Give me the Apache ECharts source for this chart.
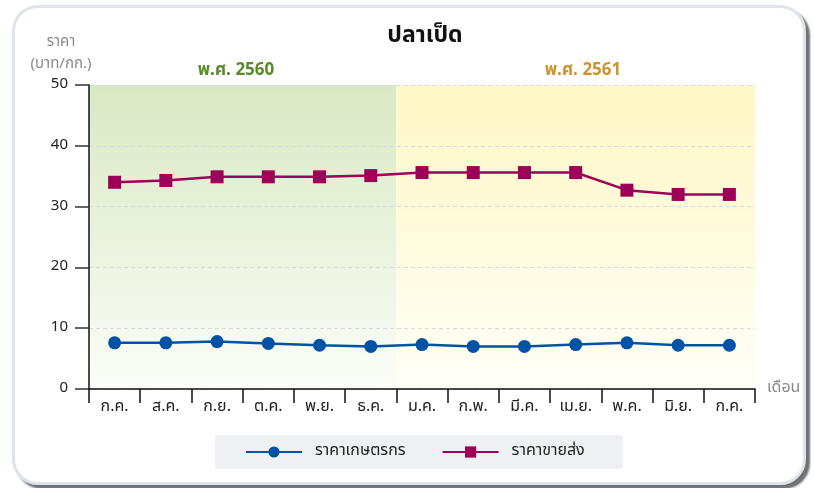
<!DOCTYPE html>
<html>
<head>
<meta charset="utf-8">
<script src="https://cdn.jsdelivr.net/npm/echarts@6/dist/echarts.min.js"></script>
<style>
  html, body { margin: 0; padding: 0; background: #fff; }
  #card {
    position: absolute; left: 12px; top: 5px; width: 788px; height: 474px;
    border: 3px solid #dde4eb; border-radius: 26px;
    box-shadow: 4px 4px 2px #6f7275;
    background: #fff;
  }
  #chart { position: absolute; left: 0; top: 0; width: 814px; height: 488px; }
</style>
</head>
<body>
<div id="card"></div>
<div id="chart"></div>
<script>
  // months: ก.ค. 2560 .. ก.ค. 2561
  const months = ['ก.ค.', 'ส.ค.', 'ก.ย.', 'ต.ค.', 'พ.ย.', 'ธ.ค.', 'ม.ค.', 'ก.พ.', 'มี.ค.', 'เม.ย.', 'พ.ค.', 'มิ.ย.', 'ก.ค.'];
  const farmerPrice = [7.6, 7.6, 7.8, 7.5, 7.2, 7.0, 7.3, 7.0, 7.0, 7.3, 7.6, 7.2, 7.2];
  const wholesalePrice = [34.0, 34.3, 34.9, 34.9, 34.9, 35.1, 35.6, 35.6, 35.6, 35.6, 32.7, 32.0, 32.0];
  // year bands in month-slot units: 2560 covers slots 0-6, 2561 covers 6-13
  const yearBands = [[0, 6], [6, 13]];

  const font = "'Noto Sans Thai', 'Tahoma', 'Noto Sans', sans-serif";

  const greenBand = new echarts.graphic.LinearGradient(0, 0, 0, 1, [
    { offset: 0, color: '#d9e8c4' }, { offset: 1, color: '#fbfdf8' }
  ]);
  const yellowBand = new echarts.graphic.LinearGradient(0, 0, 0, 1, [
    { offset: 0, color: '#fef8c5' }, { offset: 1, color: '#fffef7' }
  ]);
  const bandColors = [greenBand, yellowBand];

  const chart = echarts.init(document.getElementById('chart'));

  const option = {
    animation: false,
    textStyle: { fontFamily: font },
    title: [
      { text: 'ปลาเป็ด', left: 420, top: 21, textAlign: 'center',
        textStyle: { fontSize: 23, fontWeight: 'bold', color: '#111', fontFamily: font } },
      { text: 'พ.ศ. 2560', left: 231, top: 58, textAlign: 'center',
        textStyle: { fontSize: 17, fontWeight: 'bold', color: '#5b8a2c', fontFamily: font } },
      { text: 'พ.ศ. 2561', left: 578, top: 58, textAlign: 'center',
        textStyle: { fontSize: 17, fontWeight: 'bold', color: '#c9952f', fontFamily: font } },
      { text: 'ราคา\n(บาท/กก.)', left: 56, top: 27, textAlign: 'center',
        textStyle: { fontSize: 15, fontWeight: 'normal', color: '#8a8a8a', lineHeight: 22, fontFamily: font } }
    ],
    legend: {
      data: ['ราคาเกษตรกร', 'ราคาขายส่ง'],
      left: 215, top: 435,
      backgroundColor: '#eff0f3',
      padding: [9, 38, 9, 30],
      itemWidth: 56, itemHeight: 14, itemGap: 36,
      textStyle: { fontSize: 16, color: '#222', padding: [0, 0, 0, 8], fontFamily: font }
    },
    grid: { left: 89, right: 59, top: 85, bottom: 99 },
    xAxis: [
      {
        type: 'category',
        position: 'bottom',
        z: 4,
        data: months,
        boundaryGap: true,
        name: 'เดือน',
        nameLocation: 'end',
        nameGap: 12,
        nameTextStyle: { color: '#8a8a8a', fontSize: 16, verticalAlign: 'middle' },
        axisLine: { show: true, onZero: false, lineStyle: { color: '#111', width: 1.5 } },
        axisTick: { show: true, length: 14, lineStyle: { color: '#111', width: 1.5 } },
        axisLabel: { color: '#222', fontSize: 16, margin: 11, interval: 0 },
        splitLine: { show: false }
      },
      {
        // hidden slot axis used only to place the year bands on month edges
        type: 'value', position: 'top', min: 0, max: months.length, show: false
      }
    ],
    yAxis: {
      type: 'value',
      z: 3,
      min: 0, max: 50, interval: 10,
      axisLine: { show: true, lineStyle: { color: '#111', width: 1.5 } },
      axisTick: { show: true, length: 14, lineStyle: { color: '#333', width: 1.5 } },
      axisLabel: { color: '#222', fontSize: 15, margin: 21 },
      splitLine: { lineStyle: { color: '#d8dbe0', type: [4, 3], width: 1 } }
    },
    series: [
      {
        name: 'band', type: 'line', xAxisIndex: 1, silent: true, z: 0,
        data: [],
        markArea: {
          silent: true,
          data: yearBands.map((b, i) => [
            { xAxis: b[0], itemStyle: { color: bandColors[i] } },
            { xAxis: b[1] }
          ])
        }
      },
      {
        name: 'ราคาเกษตรกร', type: 'line', z: 5,
        data: farmerPrice,
        symbol: 'circle', symbolSize: 13,
        color: '#0152a5',
        lineStyle: { width: 2.5, color: '#0152a5' },
        itemStyle: { color: '#0152a5' }
      },
      {
        name: 'ราคาขายส่ง', type: 'line', z: 5,
        data: wholesalePrice,
        symbol: 'rect', symbolSize: 13,
        color: '#9c0058',
        lineStyle: { width: 2.5, color: '#9c0058' },
        itemStyle: { color: '#9c0058' }
      }
    ]
  };

  chart.setOption(option);
  window.addEventListener('resize', chart.resize);
</script>
</body>
</html>
